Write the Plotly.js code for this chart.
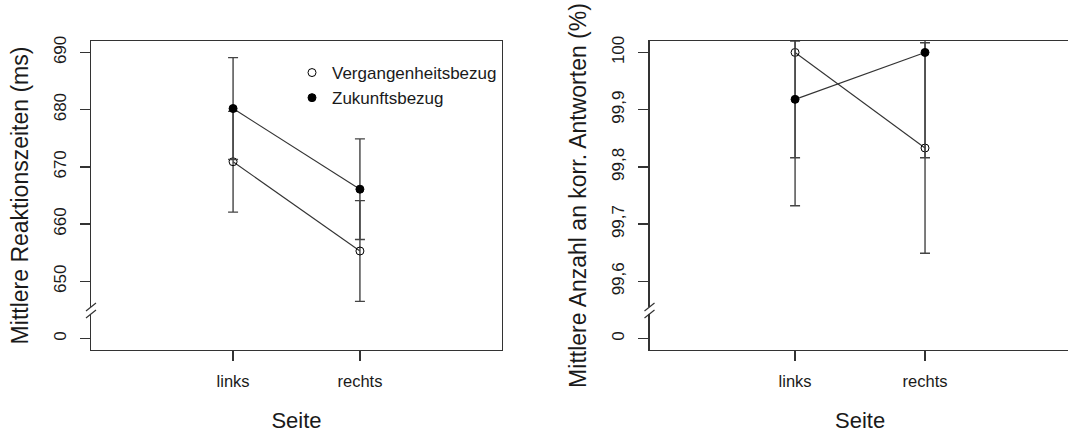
<!DOCTYPE html>
<html>
<head>
<meta charset="utf-8">
<script src="https://cdn.plot.ly/plotly-3.0.1.min.js"></script>
<style>
  html, body { margin: 0; padding: 0; overflow: hidden; background: #fff; }
  #chart { width: 1072px; height: 434px; }
</style>
</head>
<body>
<div id="chart"></div>
<script>
// ---- data ----
const seiten = ['links', 'rechts'];
const serienNamen = ['Vergangenheitsbezug', 'Zukunftsbezug'];

// Reaktionszeiten (ms)
const rtVergangenheit = [670.9, 655.3];
const rtVergangenheitFehler = [8.8, 8.8];
const rtZukunft = [680.2, 666.1];
const rtZukunftFehler = [8.9, 8.8];

// Anzahl korrekter Antworten (%)
const acVergangenheit = [100.0, 99.833];
const acVergangenheitFehler = [0.268, 0.184];
const acZukunft = [99.918, 100.0];
const acZukunftFehler = [0.102, 0.184];

// axis ticks (broken axis: the lowest tick stands for 0)
const rtTickWerte = [640, 650, 660, 670, 680, 690];
const rtTickText = ['0', '650', '660', '670', '680', '690'];
const acTickWerte = [99.5, 99.6, 99.7, 99.8, 99.9, 100];
const acTickText = ['0', '99,6', '99,7', '99,8', '99,9', '100'];

// ---- styling ----
const FONT = 'Liberation Sans, Arial, sans-serif';
const TXT = '#1a1a1a';
const AX = '#333333';
const W = 1072;

function seriesTraces(y, err, name, filled, xa, ya, showLegend) {
  return [
    {
      x: seiten, y: y, xaxis: xa, yaxis: ya, type: 'scatter', mode: 'lines',
      line: { color: '#333', width: 1.1 }, showlegend: false, hoverinfo: 'skip'
    },
    {
      x: seiten, y: y, xaxis: xa, yaxis: ya, type: 'scatter', mode: 'markers',
      name: name, showlegend: showLegend, legendgroup: name,
      marker: {
        symbol: filled ? 'circle' : 'circle-open', size: 8, color: '#000',
        line: { color: '#000', width: 1 }
      },
      error_y: { type: 'data', array: err, visible: true, color: '#444', thickness: 1.4, width: 5 }
    }
  ];
}

const traces = [].concat(
  seriesTraces(rtVergangenheit, rtVergangenheitFehler, serienNamen[0], false, 'x', 'y', true),
  seriesTraces(rtZukunft, rtZukunftFehler, serienNamen[1], true, 'x', 'y', true),
  seriesTraces(acVergangenheit, acVergangenheitFehler, serienNamen[0], false, 'x2', 'y2', false),
  seriesTraces(acZukunft, acZukunftFehler, serienNamen[1], true, 'x2', 'y2', false)
);

function xAxis(domain, anchor) {
  return {
    domain: domain, anchor: anchor, type: 'category', range: [-1.12, 2.12],
    showline: true, mirror: true, linecolor: AX, linewidth: 1.3,
    ticks: 'outside', ticklen: 10, tickcolor: AX, tickwidth: 1.3,
    ticklabelstandoff: 6,
    showgrid: false, zeroline: false,
    tickfont: { family: FONT, size: 16.5, color: TXT },
    title: { text: 'Seite', font: { family: FONT, size: 22, color: TXT }, standoff: 23 }
  };
}
function yAxis(range, vals, text, title, anchor) {
  return {
    anchor: anchor, domain: [0, 1], range: range,
    tickmode: 'array', tickvals: vals, ticktext: text, tickangle: -90,
    showline: true, mirror: true, linecolor: AX, linewidth: 1.3,
    ticks: 'outside', ticklen: 10, tickcolor: AX, tickwidth: 1.3,
    ticklabelstandoff: 7,
    showgrid: false, zeroline: false,
    tickfont: { family: FONT, size: 17, color: TXT },
    title: { text: title, font: { family: FONT, size: 23, color: TXT }, standoff: 16 }
  };
}

const xd1 = [91 / W, 502 / W];
const xd2 = [649.5 / W, 1070.6 / W];

function breakShapes(yref, xpaper, yval) {
  return [
    { type: 'rect', xref: 'paper', yref: yref, xsizemode: 'pixel', ysizemode: 'pixel',
      xanchor: xpaper, yanchor: yval, x0: -3, x1: 3, y0: -4, y1: 3,
      fillcolor: '#fff', line: { width: 0 }, layer: 'above' },
    { type: 'path', xref: 'paper', yref: yref, xsizemode: 'pixel', ysizemode: 'pixel',
      xanchor: xpaper, yanchor: yval,
      path: 'M-5,-8 L5,0 M-5,-1 L5,7',
      line: { color: AX, width: 1.2 }, layer: 'above' }
  ];
}

const layout = {
  width: W, height: 434,
  margin: { l: 0, r: 0, t: 41, b: 84 },
  paper_bgcolor: '#fff', plot_bgcolor: '#fff',
  font: { family: FONT, color: TXT },
  xaxis: xAxis(xd1, 'y'),
  yaxis: yAxis([638, 692], rtTickWerte, rtTickText, 'Mittlere Reaktionszeiten (ms)', 'x'),
  xaxis2: xAxis(xd2, 'y2'),
  yaxis2: yAxis([99.48, 100.02], acTickWerte, acTickText, 'Mittlere Anzahl an korr. Antworten (%)', 'x2'),
  showlegend: true,
  legend: {
    x: 292 / W, y: 1 - (55 - 41) / 309, xanchor: 'left', yanchor: 'top',
    bgcolor: 'rgba(0,0,0,0)', borderwidth: 0,
    font: { family: FONT, size: 17, color: TXT },
    tracegroupgap: 0, itemwidth: 30
  },
  shapes: [].concat(
    breakShapes('y', xd1[0], 645),
    breakShapes('y2', xd2[0], 99.55)
  )
};

Plotly.newPlot('chart', traces, layout, { displayModeBar: false, staticPlot: true });
</script>
</body>
</html>
